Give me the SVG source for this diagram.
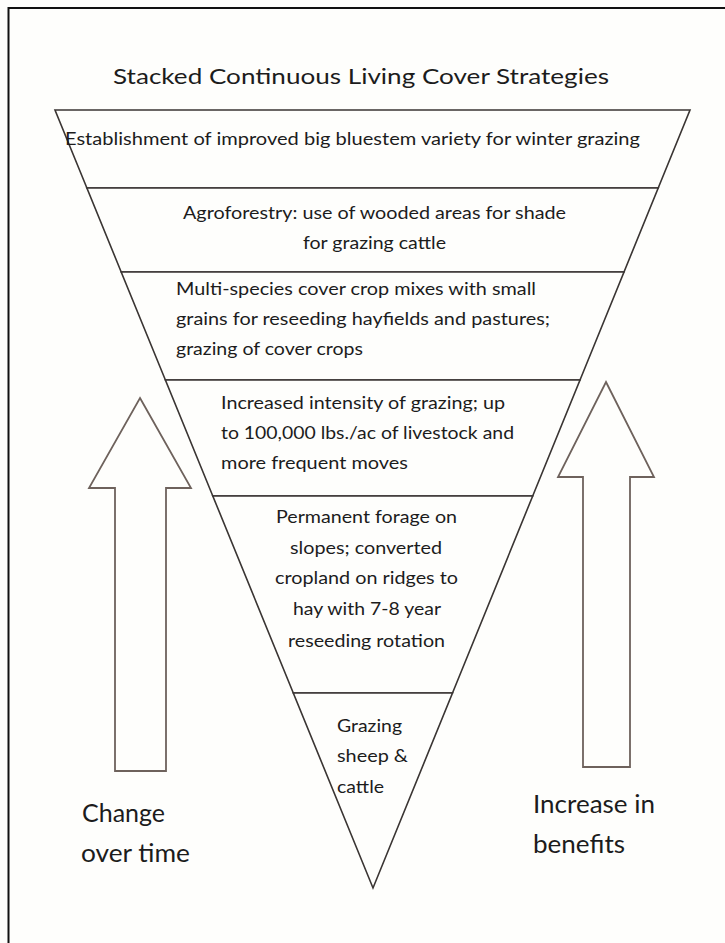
<svg xmlns="http://www.w3.org/2000/svg" width="725" height="943" viewBox="0 0 725 943">
<style>
.bg{fill:#fefefc}
.frame{stroke:#111;stroke-width:2;fill:none}
.layer{fill:#fefefc;stroke:#3a3533;stroke-width:1.6;stroke-linejoin:miter}
.arrow{fill:#fefefc;stroke:#6e625c;stroke-width:1.8;stroke-linejoin:miter}
text{font-family:Lato,"Open Sans","Liberation Sans",sans-serif;fill:#1c1c1c;font-size:18px}
.title{font-size:22px}
.big{font-size:25px}
.small{font-size:17px}
</style>
<rect class="bg" x="0" y="0" width="725" height="943"/>
<path class="frame" d="M8.5,943 V8 H725"/>
<text class="title" x="113" y="84" textLength="496" lengthAdjust="spacingAndGlyphs">Stacked Continuous Living Cover Strategies</text>
<g id="arrows">
<g id="arrow-left">
<polygon class="arrow" points="140,398 191,488 166,488 166,771 115,771 115,488 89,488"/>
</g>
<g id="arrow-right">
<polygon class="arrow" points="606,382 654,477 630,477 630,767 583,767 583,477 558,477"/>
</g>
</g>
<g id="layer1">
<polygon class="layer" points="55,110 690,110 658.2,188 86.9,188"/>
<text x="65" y="145" textLength="575" lengthAdjust="spacingAndGlyphs">Establishment of improved big bluestem variety for winter grazing</text>
</g>
<g id="layer2">
<polygon class="layer" points="86.9,188 658.2,188 624,272 121.2,272"/>
<text x="183" y="219" textLength="383" lengthAdjust="spacingAndGlyphs">Agroforestry: use of wooded areas for shade</text>
<text x="303" y="249" textLength="143" lengthAdjust="spacingAndGlyphs">for grazing cattle</text>
</g>
<g id="layer3">
<polygon class="layer" points="121.2,272 624,272 580,380 165.4,380"/>
<text x="176" y="295" textLength="360" lengthAdjust="spacingAndGlyphs">Multi-species cover crop mixes with small</text>
<text x="176" y="325" textLength="374" lengthAdjust="spacingAndGlyphs">grains for reseeding hayfields and pastures;</text>
<text x="176" y="355" textLength="187" lengthAdjust="spacingAndGlyphs">grazing of cover crops</text>
</g>
<g id="layer4">
<polygon class="layer" points="165.4,380 580,380 532.7,496 212.8,496"/>
<text x="221" y="409" textLength="284" lengthAdjust="spacingAndGlyphs">Increased intensity of grazing; up</text>
<text x="221" y="439" textLength="293" lengthAdjust="spacingAndGlyphs">to 100,000 lbs./ac of livestock and</text>
<text x="221" y="469" textLength="187" lengthAdjust="spacingAndGlyphs">more frequent moves</text>
</g>
<g id="layer5">
<polygon class="layer" points="212.8,496 532.7,496 452.5,693 293.3,693"/>
<text x="276" y="523" textLength="181" lengthAdjust="spacingAndGlyphs">Permanent forage on</text>
<text x="290" y="554" textLength="152" lengthAdjust="spacingAndGlyphs">slopes; converted</text>
<text x="275" y="584" textLength="183" lengthAdjust="spacingAndGlyphs">cropland on ridges to</text>
<text x="293" y="615" textLength="148" lengthAdjust="spacingAndGlyphs">hay with 7-8 year</text>
<text x="288" y="647" textLength="157" lengthAdjust="spacingAndGlyphs">reseeding rotation</text>
</g>
<g id="layer6">
<polygon class="layer" points="293.3,693 452.5,693 373,888"/>
<text class="small" x="337" y="732" textLength="65" lengthAdjust="spacingAndGlyphs">Grazing</text>
<text class="small" x="337" y="762" textLength="71" lengthAdjust="spacingAndGlyphs">sheep &amp;</text>
<text class="small" x="337" y="793" textLength="47" lengthAdjust="spacingAndGlyphs">cattle</text>
</g>
<g id="label-change">
<text class="big" x="82" y="822" textLength="83" lengthAdjust="spacingAndGlyphs">Change</text>
<text class="big" x="81" y="862" textLength="109" lengthAdjust="spacingAndGlyphs">over time</text>
</g>
<g id="label-benefits">
<text class="big" x="533" y="813" textLength="122" lengthAdjust="spacingAndGlyphs">Increase in</text>
<text class="big" x="533" y="853" textLength="92" lengthAdjust="spacingAndGlyphs">benefits</text>
</g>
</svg>
